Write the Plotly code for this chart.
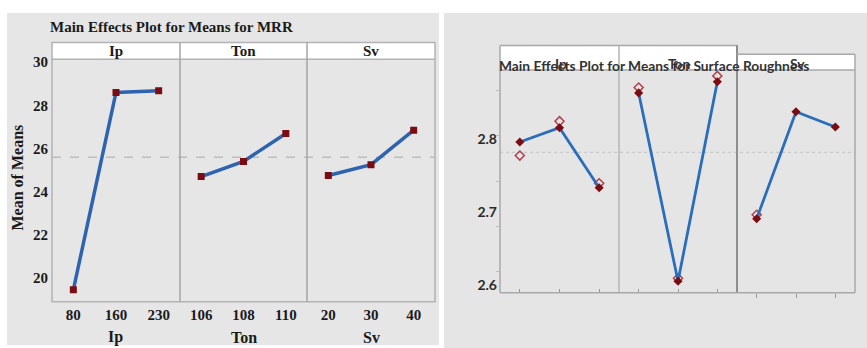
import plotly.graph_objects as go

W, H = 867, 348

# ---------------- data ----------------
factors = ["Ip", "Ton", "Sv"]
ip_levels = ["80", "160", "230"]
ton_levels = ["106", "108", "110"]
sv_levels = ["20", "30", "40"]

mrr_ip = [19.45, 28.6, 28.68]
mrr_ton = [24.7, 25.4, 26.7]
mrr_sv = [24.75, 25.25, 26.85]

sr_ip = [2.7955, 2.815, 2.733]
sr_ton = [2.8627, 2.605, 2.878]
sr_sv = [2.6906, 2.837, 2.816]

sr_ip_alt = [2.777, 2.824, 2.739]
sr_ton_alt = [2.870, 2.609, 2.886]
sr_sv_alt = [2.696, None, None]

mrr_yticks = [20, 22, 24, 26, 28, 30]
sr_yticks = [2.6, 2.7, 2.8]

mrr_title = "Main Effects Plot for Means for MRR"
sr_title = "Main Effects Plot for Means for Surface Roughness"
mrr_ylabel = "Mean of Means"

mrr_mean = sum(mrr_ip + mrr_ton + mrr_sv) / 9
sr_mean = sum(sr_ip + sr_ton + sr_sv) / 9

# ---------------- helpers ----------------
def X(p):
    return p / W

def Y(p):
    return 1 - p / H

SERIF = "Liberation Serif"
SANS = "Lato"
BLUE = "#2E63B0"
RED = "#7A0C12"

fig = go.Figure()

levels = [ip_levels, ton_levels, sv_levels]
mrr_vals = [mrr_ip, mrr_ton, mrr_sv]
sr_vals = [sr_ip, sr_ton, sr_sv]
sr_alts = [sr_ip_alt, sr_ton_alt, sr_sv_alt]

for i in range(3):
    xa = "x" if i == 0 else f"x{i+1}"
    fig.add_trace(go.Scatter(
        x=levels[i], y=mrr_vals[i], xaxis=xa, yaxis="y",
        mode="lines+markers",
        line=dict(color=BLUE, width=3.5),
        marker=dict(symbol="square", size=7, color=RED),
        showlegend=False, hoverinfo="skip"))

for i in range(3):
    xa = f"x{i+4}"
    fig.add_trace(go.Scatter(
        x=levels[i], y=sr_alts[i], xaxis=xa, yaxis="y2",
        mode="markers",
        marker=dict(symbol="diamond-open", size=7, color="#B0404A",
                    line=dict(width=1.5)),
        showlegend=False, hoverinfo="skip"))
    fig.add_trace(go.Scatter(
        x=levels[i], y=sr_vals[i], xaxis=xa, yaxis="y2",
        mode="lines+markers",
        line=dict(color="#2A6DBA", width=2.8),
        marker=dict(symbol="diamond", size=7, color=RED),
        showlegend=False, hoverinfo="skip"))

# empty trace to create minor-tick overlay axis
fig.add_trace(go.Scatter(x=[], y=[], xaxis="x4", yaxis="y3",
                         showlegend=False, hoverinfo="skip"))

serif_font = dict(family=SERIF, size=15, color="#1A1A1A", weight=700)
sans_font = dict(family=SANS, size=14, color="#2A2A2A", weight=700)

layout = dict(
    width=W, height=H,
    margin=dict(l=0, r=0, t=0, b=0),
    paper_bgcolor="white", plot_bgcolor="white",
    showlegend=False,
)

left_edges = [(52, 180), (180, 307), (307, 435)]
right_edges = [(500, 619), (619, 737), (737, 855)]

for i, (a, b) in enumerate(left_edges):
    key = "xaxis" if i == 0 else f"xaxis{i+1}"
    layout[key] = dict(
        domain=[X(a), X(b)], anchor="y", type="category",
        categoryorder="array", categoryarray=levels[i],
        range=[-0.5, 2.5], showgrid=False, zeroline=False,
        showline=False, ticks="", tickfont=serif_font,
        ticklabelstandoff=2, fixedrange=True)

for i, (a, b) in enumerate(right_edges):
    key = f"xaxis{i+4}"
    layout[key] = dict(
        domain=[X(a), X(b)], anchor="y2", type="category",
        categoryorder="array", categoryarray=levels[i],
        range=[-0.5, 2.5], showgrid=False, zeroline=False,
        showline=False, showticklabels=False,
        ticks="inside" if i < 2 else "outside", ticklen=4,
        tickcolor="#9A9A9A", tickwidth=1, fixedrange=True)

layout["yaxis"] = dict(
    domain=[Y(301), Y(55)], anchor="x", range=[18.9, 30.14],
    tickvals=mrr_yticks, showgrid=False, zeroline=False, showline=False,
    ticks="", tickfont=serif_font, ticklabelstandoff=3, fixedrange=True)

layout["yaxis2"] = dict(
    domain=[Y(292), Y(66)], anchor="x4", range=[2.5892, 2.894],
    tickvals=sr_yticks, tickformat=".1f", showgrid=False, zeroline=False,
    showline=False, ticks="", tickfont=sans_font, ticklabelstandoff=2,
    fixedrange=True)

layout["yaxis3"] = dict(
    overlaying="y2", anchor="x4", range=[-0.463, 4.45], dtick=1, tick0=0,
    showgrid=False, zeroline=False, showline=False, showticklabels=False,
    ticks="outside", ticklen=3, tickcolor="#BDBDBD", fixedrange=True)

shapes = []

def rect(x0, y0, x1, y1, fill=None, line=None, lw=1.0, layer="below"):
    shapes.append(dict(type="rect", xref="paper", yref="paper",
                       x0=X(x0), x1=X(x1), y0=Y(y1), y1=Y(y0),
                       fillcolor=fill or "rgba(0,0,0,0)",
                       line=dict(color=line or "rgba(0,0,0,0)", width=lw if line else 0),
                       layer=layer))

def hline(x0, x1, y, color, lw=1.0):
    shapes.append(dict(type="line", xref="paper", yref="paper",
                       x0=X(x0), x1=X(x1), y0=Y(y), y1=Y(y),
                       line=dict(color=color, width=lw), layer="above"))

def vline(x, y0, y1, color, lw=1.0):
    shapes.append(dict(type="line", xref="paper", yref="paper",
                       x0=X(x), x1=X(x), y0=Y(y0), y1=Y(y1),
                       line=dict(color=color, width=lw), layer="above"))

# backgrounds
rect(7, 8, 439, 345, fill="#E6E6E6")
rect(444, 8, 867, 348, fill="#E5E5E5")
# left header
rect(52, 38, 435, 55, fill="white")
# right header
rect(500, 41, 737, 66, fill="white")
rect(737, 50, 855, 66, fill="white")

# left panel borders
LB = "#B3B3B3"
rect(52, 38, 435, 301, line=LB, lw=1.5, layer="above")
hline(52, 435, 55, LB, 1.5)
vline(180, 38, 301, "#A5A5A5", 1.5)
vline(307, 38, 301, "#A5A5A5", 1.5)

# right panel borders
RB = "#A8A8A8"
hline(500, 738, 41, RB, 1.5)
vline(500, 41, 292, RB, 1.5)
vline(619, 41, 292, "#B5B5B5", 1.5)
vline(737, 41, 292, "#8E8E8E", 2)
hline(737, 855, 50, RB, 1.5)
hline(500, 855, 66, RB, 1.5)
vline(855, 50, 292, RB, 1.5)
hline(500, 855, 292, RB, 1.5)

# reference mean lines
shapes.append(dict(type="line", xref="paper", yref="y",
                   x0=X(52), x1=X(435), y0=mrr_mean, y1=mrr_mean,
                   line=dict(color="#BDBDBD", width=1.5, dash="dash"),
                   layer="below"))
shapes.append(dict(type="line", xref="paper", yref="y2",
                   x0=X(500), x1=X(855), y0=sr_mean, y1=sr_mean,
                   line=dict(color="#C8C8C8", width=1.2, dash="dot"),
                   layer="below"))

layout["shapes"] = shapes

ann = []
ann.append(dict(text=mrr_title, x=X(48), y=Y(22), xref="paper", yref="paper",
                xanchor="left", yanchor="middle", showarrow=False,
                font=dict(family=SERIF, size=15, color="#1A1A1A", weight=700)))
ann.append(dict(text=mrr_ylabel, x=X(17), y=Y(175), xref="paper", yref="paper",
                xanchor="center", yanchor="middle", showarrow=False, textangle=-90,
                font=dict(family=SERIF, size=16, color="#1A1A1A", weight=700)))
for i, (a, b) in enumerate(left_edges):
    c = (a + b) / 2
    ann.append(dict(text=factors[i], x=X(c), y=Y(46.5), xref="paper", yref="paper",
                    xanchor="center", yanchor="middle", showarrow=False,
                    font=dict(family=SERIF, size=15, color="#1A1A1A", weight=700)))
    ann.append(dict(text=factors[i], x=X(c), y=Y(337), xref="paper", yref="paper",
                    xanchor="center", yanchor="middle", showarrow=False,
                    font=dict(family=SERIF, size=16, color="#1A1A1A", weight=700)))

ann.append(dict(text=sr_title, x=X(497), y=Y(61), xref="paper", yref="paper",
                xanchor="left", yanchor="middle", showarrow=False,
                font=dict(family=SANS, size=13.8, color="#333333", weight=700)))
for i, (a, b) in enumerate(right_edges):
    c = (a + b) / 2 + 1
    ann.append(dict(text=factors[i], x=X(c), y=Y(59), xref="paper", yref="paper",
                    xanchor="center", yanchor="middle", showarrow=False,
                    font=dict(family=SANS, size=13.8, color="#333333", weight=700)))

layout["annotations"] = ann
fig.update_layout(**layout)

fig.write_html("out.html",
               config={"displayModeBar": False},
               post_script="document.body.style.margin='0px';document.body.style.overflow='hidden';")
